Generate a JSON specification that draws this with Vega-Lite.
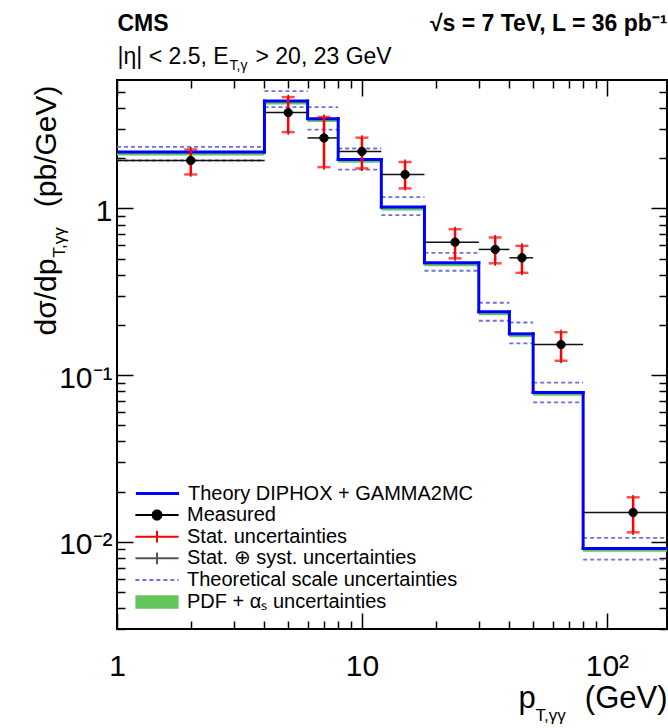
{
  "$schema": "https://vega.github.io/schema/vega-lite/v6.json",
  "width": 550,
  "height": 549,
  "autosize": {"type": "none"},
  "padding": {"left": 117, "top": 80, "right": 1, "bottom": 99},
  "background": "white",
  "datasets": {
    "bins": [
      {"lo": 1, "hi": 4, "xc": 2, "meas": 1.94, "stat_lo": 1.60, "stat_hi": 2.26, "tot_lo": 1.55, "tot_hi": 2.34, "theory": 2.18, "scale_up": 2.34, "scale_dn": 1.94, "pdf_up": 2.20, "pdf_dn": 2.08},
      {"lo": 4, "hi": 6, "xc": 5, "meas": 3.76, "stat_lo": 2.87, "stat_hi": 4.66, "tot_lo": 2.77, "tot_hi": 4.82, "theory": 4.41, "scale_up": 5.06, "scale_dn": 4.06, "pdf_up": 4.45, "pdf_dn": 4.21},
      {"lo": 6, "hi": 8, "xc": 7, "meas": 2.65, "stat_lo": 1.77, "stat_hi": 3.54, "tot_lo": 1.71, "tot_hi": 3.66, "theory": 3.46, "scale_up": 4.06, "scale_dn": 2.97, "pdf_up": 3.49, "pdf_dn": 3.30},
      {"lo": 8, "hi": 12, "xc": 10, "meas": 2.20, "stat_lo": 1.74, "stat_hi": 2.66, "tot_lo": 1.68, "tot_hi": 2.75, "theory": 1.97, "scale_up": 2.29, "scale_dn": 1.71, "pdf_up": 1.99, "pdf_dn": 1.88},
      {"lo": 12, "hi": 18, "xc": 15, "meas": 1.60, "stat_lo": 1.32, "stat_hi": 1.90, "tot_lo": 1.28, "tot_hi": 1.97, "theory": 1.02, "scale_up": 1.17, "scale_dn": 0.912, "pdf_up": 1.03, "pdf_dn": 0.974},
      {"lo": 18, "hi": 30, "xc": 24, "meas": 0.628, "stat_lo": 0.502, "stat_hi": 0.751, "tot_lo": 0.485, "tot_hi": 0.777, "theory": 0.472, "scale_up": 0.542, "scale_dn": 0.423, "pdf_up": 0.477, "pdf_dn": 0.451},
      {"lo": 30, "hi": 40, "xc": 35, "meas": 0.568, "stat_lo": 0.469, "stat_hi": 0.670, "tot_lo": 0.453, "tot_hi": 0.693, "theory": 0.240, "scale_up": 0.272, "scale_dn": 0.212, "pdf_up": 0.242, "pdf_dn": 0.229},
      {"lo": 40, "hi": 50, "xc": 45, "meas": 0.506, "stat_lo": 0.411, "stat_hi": 0.597, "tot_lo": 0.397, "tot_hi": 0.618, "theory": 0.177, "scale_up": 0.207, "scale_dn": 0.155, "pdf_up": 0.179, "pdf_dn": 0.169},
      {"lo": 50, "hi": 80, "xc": 65, "meas": 0.1525, "stat_lo": 0.122, "stat_hi": 0.181, "tot_lo": 0.118, "tot_hi": 0.187, "theory": 0.0787, "scale_up": 0.0903, "scale_dn": 0.0686, "pdf_up": 0.0795, "pdf_dn": 0.0752},
      {"lo": 80, "hi": 200, "xc": 128, "meas": 0.0150, "stat_lo": 0.0114, "stat_hi": 0.0185, "tot_lo": 0.0110, "tot_hi": 0.0191, "theory": 0.00912, "scale_up": 0.01057, "scale_dn": 0.00783, "pdf_up": 0.00921, "pdf_dn": 0.00871}
    ]
  },
  "data": {"name": "bins"},
  "config": {
    "view": {"stroke": "#000", "strokeWidth": 2},
    "font": "Liberation Sans",
    "axis": {
      "grid": false,
      "domain": false,
      "tickColor": "#000",
      "tickWidth": 1.5,
      "labelFont": "Liberation Sans",
      "titleFont": "Liberation Sans",
      "labelColor": "#000",
      "titleColor": "#000",
      "titleFontWeight": "normal",
      "labelFontSize": 30,
      "titlePadding": 0,
      "labelFlush": false,
      "labelOverlap": false
    },
    "legend": {
      "orient": "none",
      "padding": 0,
      "labelFont": "Liberation Sans",
      "labelFontSize": 20,
      "labelColor": "#000",
      "labelLimit": 600,
      "symbolSize": 324,
      "labelOffset": 20,
      "symbolStrokeWidth": 2
    }
  },
  "resolve": {"axis": {"x": "independent", "y": "independent"}},
  "layer": [
    {
      "mark": {"type": "rect", "clip": true},
      "encoding": {
        "x": {"field": "lo", "type": "quantitative", "scale": {"type": "log", "domain": [1, 176], "nice": false},
          "axis": {"orient": "bottom", "values": [1, 10, 100], "tickSize": -16, "labels": false,
            "title": "(GeV)", "titleX": 550, "titleY": 78, "titleAlign": "right", "titleBaseline": "alphabetic", "titleFontSize": 31, "titleAngle": 0}},
        "x2": {"field": "hi"},
        "y": {"field": "pdf_dn", "type": "quantitative", "scale": {"type": "log", "domain": [0.003, 5.9], "nice": false},
          "axis": {"orient": "left", "values": [0.01, 0.1, 1], "tickSize": -16, "labels": false,
            "title": "(pb/GeV)", "titleX": -62, "titleY": 5, "titleAlign": "right", "titleBaseline": "alphabetic", "titleAngle": -90, "titleFontSize": 30}},
        "y2": {"field": "pdf_up"},
        "fill": {
          "datum": "PDF + αₛ uncertainties",
          "type": "nominal",
          "scale": {"range": ["#63c55b"]},
          "legend": {"title": null, "legendX": 30, "legendY": 512, "symbolType": "M-2.4,-0.75H2.4V0.75H-2.4Z", "symbolStrokeWidth": 0}
        }
      }
    },
    {
      "mark": {"type": "rule", "clip": true, "strokeWidth": 1.8, "color": "#7070dd"},
      "encoding": {
        "x": {"field": "lo", "type": "quantitative", "scale": {"type": "log", "domain": [1, 176], "nice": false},
          "axis": {"orient": "bottom", "values": [2, 3, 4, 5, 6, 7, 8, 9, 20, 30, 40, 50, 60, 70, 80, 90], "tickSize": -8, "labels": false,
            "title": "p", "titleX": 401, "titleY": 78, "titleAlign": "left", "titleBaseline": "alphabetic", "titleFontSize": 31, "titleAngle": 0}},
        "x2": {"field": "hi"},
        "y": {"field": "scale_up", "type": "quantitative", "scale": {"type": "log", "domain": [0.003, 5.9], "nice": false},
          "axis": {"orient": "left", "values": [0.003, 0.004, 0.005, 0.006, 0.007, 0.008, 0.009, 0.02, 0.03, 0.04, 0.05, 0.06, 0.07, 0.08, 0.09, 0.2, 0.3, 0.4, 0.5, 0.6, 0.7, 0.8, 0.9, 2, 3, 4, 5], "tickSize": -8, "labels": false,
            "title": "dσ/dp", "titleX": -62, "titleY": 255, "titleAlign": "left", "titleBaseline": "alphabetic", "titleAngle": -90, "titleFontSize": 30}},
        "strokeDash": {
          "datum": "Theoretical scale uncertainties",
          "type": "nominal",
          "scale": {"range": [[4, 3]]},
          "legend": {"title": null, "legendX": 30, "legendY": 490, "symbolType": "M-2.4,0H2.4", "symbolStrokeWidth": 1.8}
        }
      }
    },
    {
      "mark": {"type": "rule", "clip": true, "strokeWidth": 1.8, "color": "#7070dd"},
      "encoding": {
        "x": {"field": "lo", "type": "quantitative", "scale": {"type": "log", "domain": [1, 176], "nice": false},
          "axis": {"orient": "bottom", "values": [1, 10, 100], "ticks": false, "labels": true,
            "labelExpr": "datum.value == 1 ? '1' : datum.value == 10 ? '10' : '10²'",
            "labelPadding": 22, "labelBaseline": "top", "labelAlign": "center", "labelFontSize": 30,
            "title": "T,γγ", "titleX": 418, "titleY": 91, "titleAlign": "left", "titleBaseline": "alphabetic", "titleFontSize": 17, "titleAngle": 0}},
        "x2": {"field": "hi"},
        "y": {"field": "scale_dn", "type": "quantitative", "scale": {"type": "log", "domain": [0.003, 5.9], "nice": false},
          "axis": {"orient": "left", "values": [0.01, 0.1, 1], "ticks": false, "labels": true,
            "labelExpr": "datum.value == 1 ? '1' : datum.value == 0.1 ? '10⁻¹' : '10⁻²'",
            "labelPadding": 5, "labelBaseline": "middle", "labelAlign": "right", "labelOffset": 3, "labelFontSize": 30,
            "title": "T,γγ", "titleX": -53, "titleY": 177, "titleAlign": "left", "titleBaseline": "alphabetic", "titleAngle": -90, "titleFontSize": 17}},
        "strokeDash": {"datum": "Theoretical scale uncertainties", "type": "nominal"}
      }
    },
    {
      "mark": {"type": "rule", "clip": true, "strokeCap": "square", "color": "#0000ff"},
      "encoding": {
        "x": {"field": "lo", "type": "quantitative", "scale": {"type": "log", "domain": [1, 176], "nice": false},
          "axis": {"orient": "top", "values": [1, 10, 100], "tickSize": -16, "labels": false,
            "title": "CMS", "titleX": 0, "titleY": -50, "titleAlign": "left", "titleBaseline": "alphabetic", "titleFontSize": 23, "titleFontWeight": "bold", "titleAngle": 0}},
        "x2": {"field": "hi"},
        "y": {"field": "theory", "type": "quantitative", "scale": {"type": "log", "domain": [0.003, 5.9], "nice": false},
          "axis": {"orient": "right", "values": [0.01, 0.1, 1], "tickSize": -16, "labels": false, "title": null}},
        "strokeWidth": {
          "datum": "Theory DIPHOX + GAMMA2MC",
          "type": "nominal",
          "scale": {"range": [3, 3]},
          "legend": {"title": null, "legendX": 30, "legendY": 403, "symbolType": "M-2.4,0H2.4"}
        }
      }
    },
    {
      "transform": [
        {"window": [{"op": "lag", "field": "theory", "as": "prev"}], "sort": [{"field": "lo"}]},
        {"filter": "datum.prev != null"}
      ],
      "mark": {"type": "rule", "clip": true, "strokeCap": "square", "color": "#0000ff"},
      "encoding": {
        "x": {"field": "lo", "type": "quantitative", "scale": {"type": "log", "domain": [1, 176], "nice": false},
          "axis": {"orient": "top", "values": [2, 3, 4, 5, 6, 7, 8, 9, 20, 30, 40, 50, 60, 70, 80, 90], "tickSize": -8, "labels": false,
            "title": "√s = 7 TeV, L = 36 pb⁻¹", "titleX": 550, "titleY": -50, "titleAlign": "right", "titleBaseline": "alphabetic", "titleFontSize": 23, "titleFontWeight": "bold", "titleAngle": 0}},
        "y": {"field": "prev", "type": "quantitative", "scale": {"type": "log", "domain": [0.003, 5.9], "nice": false},
          "axis": {"orient": "right", "values": [0.003, 0.004, 0.005, 0.006, 0.007, 0.008, 0.009, 0.02, 0.03, 0.04, 0.05, 0.06, 0.07, 0.08, 0.09, 0.2, 0.3, 0.4, 0.5, 0.6, 0.7, 0.8, 0.9, 2, 3, 4, 5], "tickSize": -8, "labels": false, "title": null}},
        "y2": {"field": "theory"},
        "strokeWidth": {"datum": "Theory DIPHOX + GAMMA2MC", "type": "nominal"}
      }
    },
    {
      "mark": {"type": "rule", "clip": true, "strokeWidth": 1.5, "color": "#111111"},
      "encoding": {
        "x": {"field": "lo", "type": "quantitative", "scale": {"type": "log", "domain": [1, 176], "nice": false},
          "axis": {"orient": "top", "ticks": false, "labels": false,
            "title": "|η| < 2.5, E", "titleX": 0, "titleY": -17, "titleAlign": "left", "titleBaseline": "alphabetic", "titleFontSize": 23, "titleAngle": 0}},
        "x2": {"field": "hi"},
        "y": {"field": "meas", "type": "quantitative", "scale": {"type": "log", "domain": [0.003, 5.9], "nice": false}, "axis": null}
      }
    },
    {
      "mark": {"type": "rule", "clip": true, "strokeWidth": 1.5, "color": "#333333"},
      "encoding": {
        "x": {"field": "xc", "type": "quantitative", "scale": {"type": "log", "domain": [1, 176], "nice": false},
          "axis": {"orient": "top", "ticks": false, "labels": false,
            "title": "T,γ", "titleX": 112, "titleY": -11, "titleAlign": "left", "titleBaseline": "alphabetic", "titleFontSize": 14, "titleAngle": 0}},
        "y": {"field": "tot_lo", "type": "quantitative", "scale": {"type": "log", "domain": [0.003, 5.9], "nice": false}, "axis": null},
        "y2": {"field": "tot_hi"},
        "opacity": {
          "datum": "Stat. ⊕ syst. uncertainties",
          "type": "nominal",
          "scale": {"range": [1, 1]},
          "legend": {"title": null, "legendX": 30, "legendY": 468.3, "symbolType": "M-2.4,0H2.4M0,-0.65V0.65", "symbolStrokeColor": "#555555"}
        }
      }
    },
    {
      "mark": {"type": "rule", "clip": true, "strokeWidth": 2.5, "color": "#ff0000"},
      "encoding": {
        "x": {"field": "xc", "type": "quantitative", "scale": {"type": "log", "domain": [1, 176], "nice": false},
          "axis": {"orient": "top", "ticks": false, "labels": false,
            "title": "> 20, 23 GeV", "titleX": 138, "titleY": -17, "titleAlign": "left", "titleBaseline": "alphabetic", "titleFontSize": 23, "titleAngle": 0}},
        "y": {"field": "stat_lo", "type": "quantitative", "scale": {"type": "log", "domain": [0.003, 5.9], "nice": false}, "axis": null},
        "y2": {"field": "stat_hi"},
        "stroke": {
          "datum": "Stat. uncertainties",
          "type": "nominal",
          "scale": {"range": ["#ff0000"]},
          "legend": {"title": null, "legendX": 30, "legendY": 446.7, "symbolType": "M-2.4,0H2.4M0,-0.65V0.65"}
        }
      }
    },
    {
      "mark": {"type": "tick", "clip": true, "orient": "horizontal", "size": 13, "thickness": 2.5, "color": "#ff0000"},
      "encoding": {
        "x": {"field": "xc", "type": "quantitative", "scale": {"type": "log", "domain": [1, 176], "nice": false}, "axis": null},
        "y": {"field": "stat_hi", "type": "quantitative", "scale": {"type": "log", "domain": [0.003, 5.9], "nice": false}, "axis": null}
      }
    },
    {
      "mark": {"type": "tick", "clip": true, "orient": "horizontal", "size": 13, "thickness": 2.5, "color": "#ff0000"},
      "encoding": {
        "x": {"field": "xc", "type": "quantitative", "scale": {"type": "log", "domain": [1, 176], "nice": false}, "axis": null},
        "y": {"field": "stat_lo", "type": "quantitative", "scale": {"type": "log", "domain": [0.003, 5.9], "nice": false}, "axis": null}
      }
    },
    {
      "mark": {"type": "point", "clip": true, "filled": true, "opacity": 1, "color": "#000000", "stroke": "#000000", "strokeWidth": 1},
      "encoding": {
        "x": {"field": "xc", "type": "quantitative", "scale": {"type": "log", "domain": [1, 176], "nice": false}, "axis": null},
        "y": {"field": "meas", "type": "quantitative", "scale": {"type": "log", "domain": [0.003, 5.9], "nice": false}, "axis": null},
        "size": {
          "datum": "Measured",
          "type": "nominal",
          "scale": {"range": [70, 70]},
          "legend": {"title": null, "legendX": 30, "legendY": 425, "labelOffset": 20,
            "symbolType": "M-5.17,0H5.17M1.1,0L0.89,0.647L0.34,1.046L-0.34,1.046L-0.89,0.647L-1.1,0L-0.89,-0.647L-0.34,-1.046L0.34,-1.046L0.89,-0.647Z",
            "symbolStrokeWidth": 2}
        }
      }
    }
  ]
}
